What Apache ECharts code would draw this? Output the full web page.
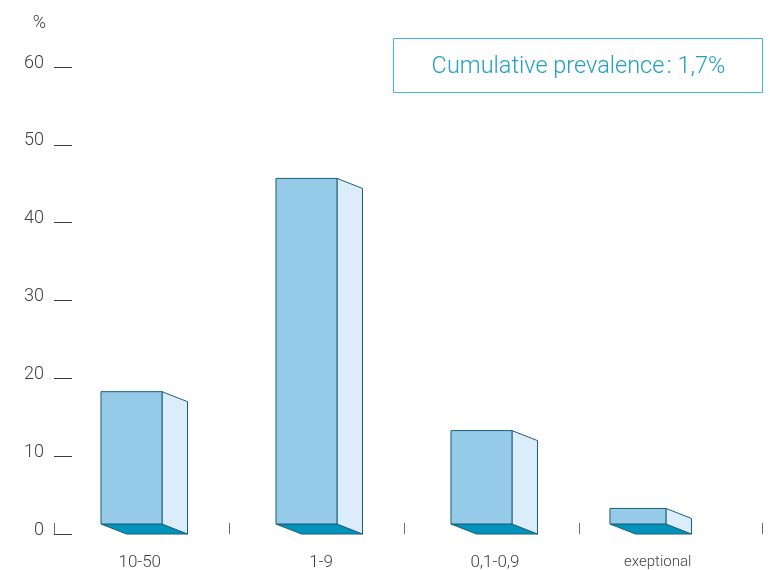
<!DOCTYPE html>
<html>
<head>
<meta charset="utf-8">
<style>html,body{margin:0;padding:0;background:#fff}#chart{width:770px;height:570px}</style>
<script src="https://cdn.jsdelivr.net/npm/echarts@6/dist/echarts.min.js"></script>
</head>
<body>
<div id="chart"></div>
<script>
// Prevalence classes and their share of the total, in percent
const categories = ['10-50', '1-9', '0,1-0,9', 'exeptional'];
const shares = [17, 44.4, 12, 2];
const yTicks = [0, 10, 20, 30, 40, 50, 60];
const note = 'Cumulative prevalence\u200a: 1,7%';

// Layout of the hand-drawn boxes, in pixels, relative to each class's slot
const boxInset = [47, 47, 47, 31];
const boxWidth = [61, 61, 61, 56];
const depthX = 25.5;
const depthY = 10;

// Axis slots: the last slot runs slightly wider than the others
const xEnd = 4.046;
const xTicks = [0, 1, 2, 3, xEnd];
const xLabelAt = [0.49, 1.526, 2.52, 3.45];

const font = 'Roboto';
const inkText = '#3f3f3f';
const edge = '#1b5f7a';

function renderBox(params, api) {
  const i = api.value(0);
  const base = api.coord([i, 0]);
  const top = api.coord([i, api.value(1)]);
  const x0 = base[0] + boxInset[i];
  const x1 = x0 + boxWidth[i];
  const yTop = top[1] - depthY;
  const yBase = base[1] - depthY;
  const face = (points, fill) => ({
    type: 'polygon',
    shape: { points },
    style: { fill, stroke: edge, lineWidth: 1 }
  });
  return {
    type: 'group',
    children: [
      face([[x0, yBase], [x1, yBase], [x1 + depthX, base[1]], [x0 + depthX, base[1]]], '#0093bb'),
      face([[x1, yTop], [x1 + depthX, top[1]], [x1 + depthX, base[1]], [x1, yBase]], '#dbecfa'),
      face([[x0, yTop], [x1, yTop], [x1, yBase], [x0, yBase]], '#95cae9')
    ]
  };
}

const chart = echarts.init(document.getElementById('chart'), null, { renderer: 'canvas' });
chart.setOption({
  animation: false,
  backgroundColor: '#fff',
  grid: { left: 54, right: 8, top: 67, bottom: 36, outerBoundsMode: 'none' },
  xAxis: {
    type: 'value',
    min: 0,
    max: xEnd,
    splitLine: { show: false },
    axisLine: { show: false },
    axisTick: {
      show: true,
      inside: true,
      length: 11,
      customValues: xTicks,
      lineStyle: { color: '#6f6f6f', width: 1 }
    },
    axisLabel: {
      show: true,
      customValues: xLabelAt,
      margin: 20,
      hideOverlap: false,
      color: inkText,
      fontFamily: font,
      fontWeight: 300,
      fontSize: 17,
      formatter: (v) => {
        const label = categories[Math.floor(v)];
        return label === 'exeptional' ? '{small|' + label + '}' : label;
      },
      rich: { small: { fontFamily: font, fontWeight: 300, fontSize: 15, lineHeight: 17, color: inkText } }
    }
  },
  yAxis: {
    type: 'value',
    min: 0,
    max: 60,
    interval: 10,
    name: '%',
    nameLocation: 'end',
    nameGap: 35,
    nameTextStyle: { color: inkText, fontFamily: font, fontWeight: 300, fontSize: 18, align: 'right', padding: [0, 8, 0, 0] },
    splitLine: { show: false },
    axisLine: { show: false },
    axisTick: {
      show: true,
      inside: true,
      length: 18,
      customValues: yTicks,
      lineStyle: { color: '#3c3c3c', width: 1 }
    },
    axisLabel: {
      show: true,
      margin: 10,
      color: inkText,
      fontFamily: font,
      fontWeight: 300,
      fontSize: 18,
      verticalAlign: 'bottom',
      lineHeight: 8
    }
  },
  series: [{
    type: 'custom',
    silent: true,
    clip: false,
    renderItem: renderBox,
    encode: { x: 0, y: 1 },
    data: shares.map((v, i) => [i, v])
  }],
  graphic: [{
    type: 'group',
    left: 393,
    top: 38,
    children: [
      {
        type: 'rect',
        shape: { x: 0.5, y: 0.5, width: 369, height: 54 },
        style: { fill: '#fff', stroke: '#3dbbdc', lineWidth: 1 }
      },
      {
        type: 'text',
        x: 185.5,
        y: 29,
        style: {
          text: note,
          fill: '#1f9fc6',
          font: '300 23.5px Roboto',
          textAlign: 'center',
          textVerticalAlign: 'middle'
        }
      }
    ]
  }]
});
</script>
</body>
</html>
